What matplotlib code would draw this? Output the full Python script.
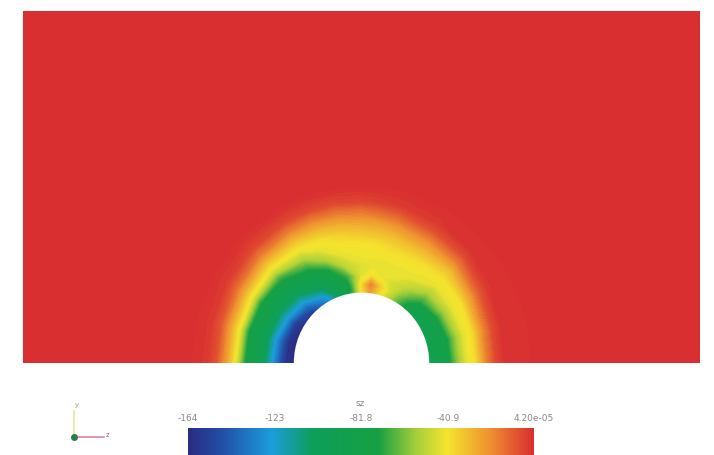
import numpy as np
import matplotlib
matplotlib.use("Agg")
import matplotlib.pyplot as plt
import matplotlib.patches as mpatches
from matplotlib.colors import LinearSegmentedColormap

# ---- field values sz, on a polar grid round the hole
radii = [1.0, 1.12, 1.25, 1.4, 1.55, 1.7, 1.85, 2.0, 2.15, 2.3, 2.5]
angles_deg = [0, 15, 30, 45, 60, 75, 83, 90, 100, 110, 120, 135, 150, 165, 180]

sz_0 = [-88, -86, -84, -62, -45, -38, -18, -5, 0, 0, 0]
sz_15 = [-88, -86, -84, -62, -45, -38, -20, -6, 0, 0, 0]
sz_30 = [-88, -86, -80, -58, -44, -40, -25, -10, -2, 0, 0]
sz_45 = [-88, -84, -70, -55, -44, -40, -32, -18, -6, 0, 0]
sz_60 = [-65, -58, -50, -44, -42, -38, -30, -20, -8, -2, 0]
sz_75 = [-40, -36, -44, -44, -42, -38, -32, -23, -12, -3, 0]
sz_83 = [-25, -18, -40, -44, -42, -40, -33, -25, -14, -4, 0]
sz_90 = [-40, -38, -45, -45, -42, -40, -34, -26, -16, -5, 0]
sz_100 = [-82, -80, -70, -52, -44, -41, -36, -28, -17, -6, 0]
sz_110 = [-108, -92, -84, -75, -55, -44, -40, -30, -18, -6, 0]
sz_120 = [-135, -120, -100, -86, -72, -55, -42, -32, -18, -6, 0]
sz_135 = [-156, -140, -120, -100, -86, -70, -46, -32, -16, -5, 0]
sz_150 = [-162, -155, -128, -106, -87, -76, -45, -28, -12, -3, 0]
sz_165 = [-164, -160, -136, -110, -88, -80, -45, -26, -9, -2, 0]
sz_180 = [-164, -160, -138, -112, -88, -80, -45, -25, -8, -2, 0]

sz_min, sz_max = -164.0, 4.2e-05
tick_vals = [-164, -123, -81.8, -40.9, 4.2e-05]
tick_labels = ["-164", "-123", "-81.8", "-40.9", "4.20e-05"]
field_name = "sz"

sz = np.array([sz_0, sz_15, sz_30, sz_45, sz_60, sz_75, sz_83, sz_90, sz_100,
               sz_110, sz_120, sz_135, sz_150, sz_165, sz_180], dtype=float)

# ---- colour map like the paraview one
cmap = LinearSegmentedColormap.from_list("pv", [
    (0.00, "#2b2c82"),
    (0.10, "#2250a8"),
    (0.24, "#1c9ddc"),
    (0.36, "#0d9f5a"),
    (0.55, "#17a043"),
    (0.66, "#a6cf3a"),
    (0.75, "#f4e52e"),
    (0.87, "#ef9430"),
    (1.00, "#d92f30"),
])
red = cmap(1.0)

W, H = 714, 456
fig = plt.figure(figsize=(W / 100, H / 100), dpi=100)

ax = fig.add_axes([23 / W, (H - 364) / H, 677 / W, 352 / H])
ax.set_facecolor(red)

th = np.radians(angles_deg)
R, T = np.meshgrid(radii, th)
X = R * np.cos(T)
Y = R * np.sin(T)
levels = np.linspace(sz_min, sz_max, 120)
ax.contourf(X, Y, sz, levels=levels, cmap=cmap, vmin=sz_min, vmax=sz_max,
            antialiased=False)

# the hole
ax.add_patch(mpatches.Wedge((0, 0), 1.0, 0, 180, facecolor="white",
                            edgecolor="none", zorder=3))
ax.set_xlim(-5, 5)
ax.set_ylim(0, 5)
ax.set_xticks([])
ax.set_yticks([])
for s in ax.spines.values():
    s.set_visible(False)

# ---- colour bar
cax = fig.add_axes([188 / W, -4 / H, 346 / W, 31 / H])
grad = np.linspace(sz_min, sz_max, 256).reshape(1, -1)
cax.imshow(grad, aspect="auto", cmap=cmap, vmin=sz_min, vmax=sz_max,
           extent=[sz_min, sz_max, 0, 1])
cax.set_xlim(sz_min, sz_max)
cax.set_yticks([])
cax.xaxis.set_ticks_position("top")
cax.set_xticks(tick_vals)
cax.set_xticklabels(tick_labels, fontsize=6.5, color="#888888")
cax.tick_params(axis="x", length=0, pad=4)
for s in cax.spines.values():
    s.set_visible(False)
fig.text(360 / W, 1 - 404 / H, field_name, fontsize=6.5, color="#888888",
         ha="center", va="center")

# ---- small orientation glyph
ox, oy = 74 / W, 1 - 438 / H
fig.add_artist(plt.Line2D([ox, ox], [oy, 1 - 412 / H], color="#e8e6a0",
                          lw=1.2, transform=fig.transFigure))
fig.add_artist(plt.Line2D([ox, 104 / W], [oy, oy], color="#d98aa0",
                          lw=1.2, transform=fig.transFigure))
fig.add_artist(plt.Line2D([ox], [oy], marker="o", ms=4, color="#2f7a4f",
                          transform=fig.transFigure))
fig.text(77 / W, 1 - 405 / H, "y", fontsize=5, color="#999999",
         ha="center", va="center")
fig.text(108 / W, 1 - 435 / H, "z", fontsize=5, color="#a05070",
         ha="center", va="center")

fig.savefig("out.png", dpi=100)
